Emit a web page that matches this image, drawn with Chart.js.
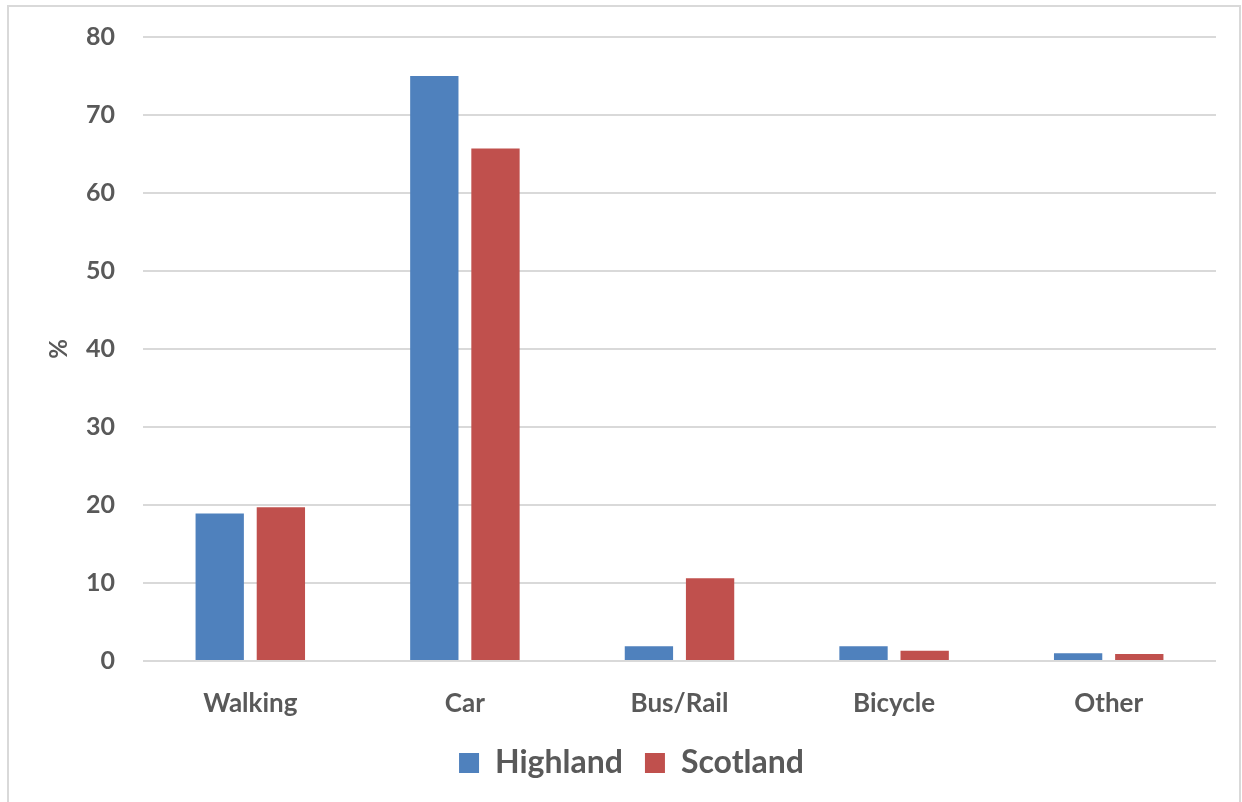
<!DOCTYPE html>
<html>
<head>
<meta charset="utf-8">
<script src="https://cdn.jsdelivr.net/npm/chart.js@4.4.1/dist/chart.umd.min.js"></script>
<style>
  html, body { margin: 0; padding: 0; background: #fff; }
</style>
</head>
<body>
<canvas id="modeChart" width="1242" height="802"></canvas>
<script>
// data
const categories = ['Walking', 'Car', 'Bus/Rail', 'Bicycle', 'Other'];
const highland = [18.9, 75.0, 1.9, 1.9, 1.0];
const scotland = [19.7, 65.7, 10.6, 1.3, 0.9];
const seriesNames = ['Highland', 'Scotland'];
const yMin = 0;
const yMax = 80;
const yStep = 10;

const TEXT = '#595959';
const GRID = '#d9d9d9';

Chart.defaults.font.family = 'Lato, "Open Sans", sans-serif';
Chart.defaults.color = TEXT;

// light frame round the whole chart
const frame = {
    id: 'frame',
    beforeDraw(chart) {
        const c = chart.ctx;
        c.save();
        c.fillStyle = '#fff';
        c.fillRect(0, 0, chart.width, chart.height);
        c.strokeStyle = GRID;
        c.lineWidth = 2;
        c.strokeRect(8, 6, chart.width - 10, chart.height + 10);
        c.restore();
    }
};

const config = {
    type: 'bar',
    data: {
        labels: categories,
        datasets: [{
            label: seriesNames[0],
            data: highland,
            backgroundColor: '#4f81bd',
            borderWidth: 0
        }, {
            label: seriesNames[1],
            data: scotland,
            backgroundColor: '#c0504d',
            borderWidth: 0
        }]
    },
    options: {
        responsive: false,
        animation: false,
        categoryPercentage: 0.57,
        barPercentage: 0.79,
        layout: {
            padding: { left: 47, right: 26, top: 37, bottom: 13 }
        },
        scales: {
            x: {
                grid: { display: false },
                border: { display: false },
                ticks: {
                    padding: 19,
                    font: { size: 26, weight: 'bold' },
                    color: TEXT
                },
                afterFit(scale) {
                    scale.height = 64;
                }
            },
            y: {
                min: yMin,
                max: yMax,
                grid: {
                    color: GRID,
                    lineWidth: 2,
                    drawTicks: false
                },
                border: { display: false },
                ticks: {
                    stepSize: yStep,
                    padding: 28,
                    font: { size: 25, weight: 'bold' },
                    color: TEXT
                },
                title: {
                    display: true,
                    text: '%',
                    font: { size: 24, weight: 'bold', lineHeight: 1 },
                    color: TEXT,
                    padding: 0
                },
                afterFit(scale) {
                    // fixed width, and don't let tick padding push the plot down
                    scale.width = 96;
                    scale.paddingTop = 0;
                    scale.paddingBottom = 0;
                }
            }
        },
        plugins: {
            legend: {
                position: 'bottom',
                labels: {
                    boxWidth: 20,
                    boxHeight: 20,
                    padding: 22,
                    color: TEXT,
                    font: { size: 32, weight: 'bold' }
                }
            },
            tooltip: { enabled: false }
        }
    },
    plugins: [frame]
};

const ctx = document.getElementById('modeChart').getContext('2d');
new Chart(ctx, config);
</script>
</body>
</html>
